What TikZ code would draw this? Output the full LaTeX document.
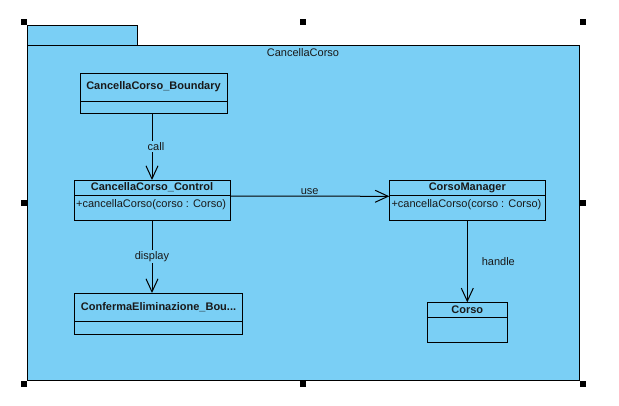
\documentclass[tikz,border=0pt]{standalone}
\usepackage{fontspec}
\setmainfont{Liberation Sans}
\usetikzlibrary{positioning,arrows.meta}
\definecolor{pkgblue}{RGB}{122,207,245}
\definecolor{ink}{RGB}{25,25,25}
\tikzset{pkg box/.style={draw=black,fill=pkgblue,line width=1pt,inner sep=0pt,outer sep=0pt},
         class head/.style={draw=black,line width=1pt,inner sep=0pt,outer sep=0pt,font=\fontsize{11}{13}\selectfont\bfseries,text=ink},
         class body/.style={draw=black,line width=1pt,inner sep=0pt,outer sep=0pt},
         op text/.style={inner sep=2pt,text=ink,yshift=-2.5pt},
         dep/.style={line width=1pt,-{Straight Barb[length=13pt,width=12pt]}},
         dep label/.style={fill=pkgblue,inner sep=1pt,text=ink},
         sel handle/.style={fill=black,minimum size=6pt,inner sep=0pt},
            }

\begin{document}
\begin{tikzpicture}[x=1pt,y=-1pt,font=\fontsize{11}{13}\selectfont]
    \useasboundingbox (0,0) rectangle (619,405);
    % package
    \node[pkg box,minimum width=552pt,minimum height=335pt] (pkg) at (303,212.5) {};
    \node[pkg box,anchor=south west,minimum width=110pt,minimum height=20pt] (tab) at (pkg.north west) {};
    \node[text=ink] (pkgname) at ([yshift=-8pt]pkg.north) {CancellaCorso};

    % classes
    \node[class head,minimum width=147pt,minimum height=28pt] (bnd) at (153.5,87) {CancellaCorso\_Boundary};
    \node[class body,minimum width=147pt,minimum height=12pt] (bndb) [below = 0pt of bnd] {};
    \node[class head,minimum width=156pt,minimum height=15pt] (ctl) at (152,187.5) {CancellaCorso\_Control};
    \node[class body,minimum width=156pt,minimum height=25pt] (ctlb) [below = 0pt of ctl] {};
    \node[op text,anchor=north west] (ctlop) at (ctlb.north west) {+cancellaCorso(corso : Corso)};
    \node[class head,minimum width=168pt,minimum height=28pt] (cnf) at (158.5,307) {ConfermaEliminazione\_Bou...};
    \node[class body,minimum width=168pt,minimum height=13pt] (cnfb) [below = 0pt of cnf] {};
    \node[class head,minimum width=156pt,minimum height=15pt] (mgr) at (467.3,187.8) {CorsoManager};
    \node[class body,minimum width=156pt,minimum height=25pt] (mgrb) [below = 0pt of mgr] {};
    \node[op text,anchor=north west] (mgrop) at (mgrb.north west) {+cancellaCorso(corso : Corso)};
    \node[class head,minimum width=80pt,minimum height=15pt] (crs) at (467.3,309.8) {Corso};
    \node[class body,minimum width=80pt,minimum height=25pt] (crsb) [below = 0pt of crs] {};

    \path[dep]
    (ctl.north |- bndb.south) edge node[dep label,xshift=4pt] {call} (ctl.north)
    (ctlb.south) edge node[dep label] {display} (cnf.north -| ctlb.south)
    ([yshift=-1pt]ctlb.north east) edge node[above,inner sep=1pt,text=ink] {use} ([yshift=-1pt]mgrb.north west)
    (mgrb.south) edge node[right=12pt,inner sep=2pt,text=ink] {handle} (crs.north);
    %%

    % selection handles
    \foreach \hx/\hy [count=\i] in {24/22,303/22,583/22,24/203,583/203,24/384,303/384,583/384}
        \node[sel handle] (h\i) at (\hx,\hy) {};
\end{tikzpicture}
\end{document}
